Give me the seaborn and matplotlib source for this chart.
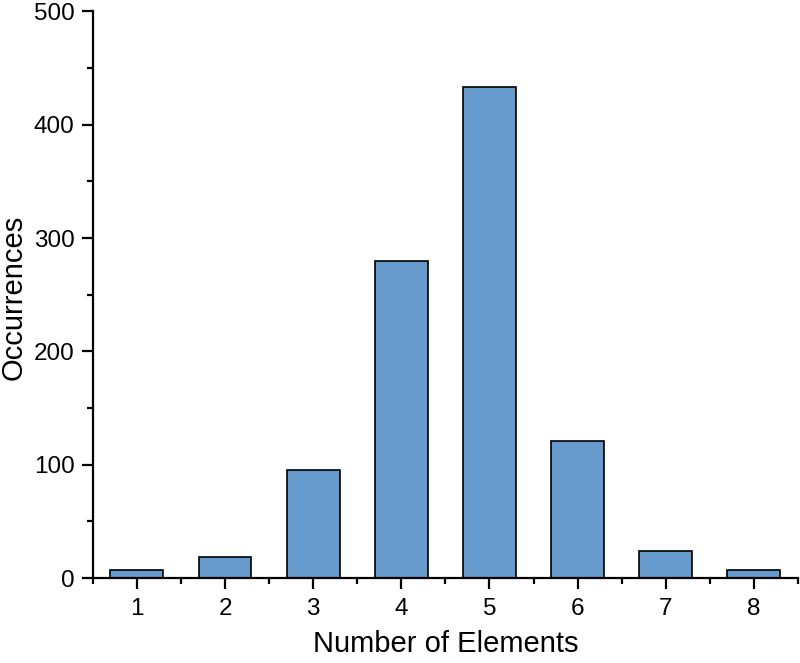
import matplotlib
matplotlib.use("Agg")
import matplotlib.pyplot as plt
import seaborn as sns
import pandas as pd
from matplotlib.ticker import MultipleLocator

elements = [1, 2, 3, 4, 5, 6, 7, 8]
occurrences = [7, 19, 95, 280, 433, 121, 24, 7]

df = pd.DataFrame({"Number of Elements": elements, "Occurrences": occurrences})

sns.set_theme(style="ticks")
plt.rcParams['font.family'] = ['Liberation Sans', 'DejaVu Sans']

fig = plt.figure(figsize=(8, 6.63), dpi=100)
ax = fig.add_axes([0.116, 0.128, 0.8815, 0.855])

sns.barplot(data=df, x="Number of Elements", y="Occurrences", native_scale=True,
            width=0.6, color="#6699CC", saturation=1, edgecolor="black",
            linewidth=1.2, ax=ax)

ax.set_xlim(0.5, 8.5)
ax.set_ylim(0, 500)
ax.xaxis.set_major_locator(MultipleLocator(1))
ax.xaxis.set_minor_locator(MultipleLocator(0.5))
ax.yaxis.set_major_locator(MultipleLocator(100))
ax.yaxis.set_minor_locator(MultipleLocator(50))

sns.despine(ax=ax)
for s in ["left", "bottom"]:
    ax.spines[s].set_linewidth(1.6)
    ax.spines[s].set_color("black")

ax.tick_params(which="major", length=8, width=1.6, color="black", labelsize=17.5,
               labelcolor="black", pad=5, direction="out")
ax.tick_params(which="major", axis="x", pad=6)
ax.tick_params(which="minor", length=4, width=1.6, color="black", direction="out")

ax.set_xlabel("Number of Elements", fontsize=21, color="black")
ax.set_ylabel("Occurrences", fontsize=21, color="black")
ax.xaxis.set_label_coords(0.5, -0.092)
ax.yaxis.set_label_coords(-0.092, 0.495)

fig.savefig("out.png", dpi=100)
